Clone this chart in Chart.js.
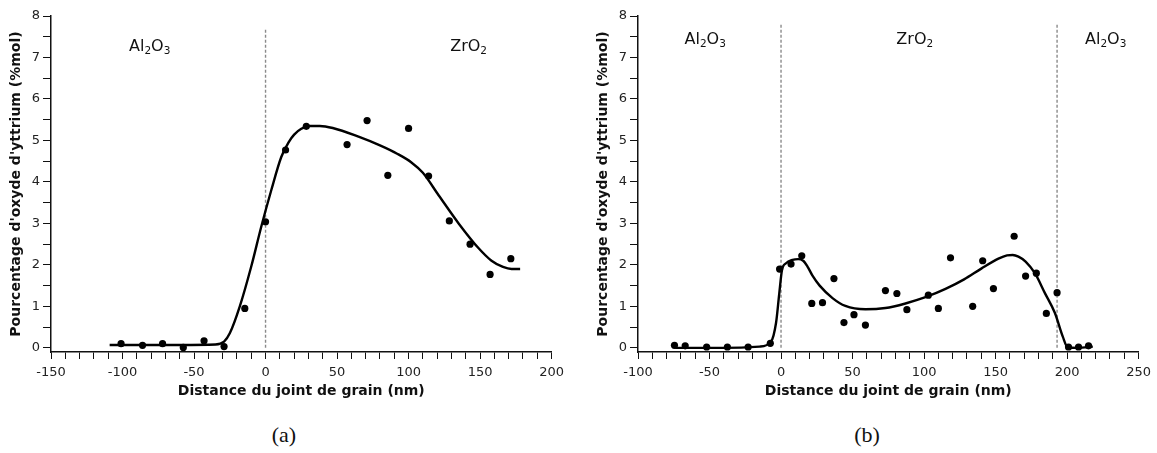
<!DOCTYPE html>
<html lang="fr">
<head>
<meta charset="utf-8">
<title>Pourcentage d'oxyde d'yttrium</title>
<script src="https://cdn.jsdelivr.net/npm/chart.js@4.4.1/dist/chart.umd.min.js"></script>
<style>
  html, body { margin: 0; padding: 0; background: #fff; }
  #page { position: relative; width: 1157px; height: 453px; overflow: hidden; }
  canvas { position: absolute; top: 0; }
  #chartA { left: 0; }
  #chartB { left: 587px; }
  .caption { position: absolute; top: 422px; width: 60px; text-align: center; font: 22px 'Liberation Serif', serif; color: #111; }
</style>
</head>
<body>
<div id="page">
  <canvas id="chartA" width="570" height="400"></canvas>
  <canvas id="chartB" width="570" height="400"></canvas>
  <div class="caption" style="left:254px">(a)</div>
  <div class="caption" style="left:837px">(b)</div>
</div>
<script>
// (a) mesures
const distA = [-101, -86, -72, -57.5, -43, -29, -14.5, 0, 14, 28.5, 57, 71, 85.5, 100, 114, 128.5, 143, 157, 171.5];
const yttriaA = [0.10, 0.06, 0.10, 0.01, 0.17, 0.03, 0.95, 3.04, 4.77, 5.34, 4.90, 5.48, 4.16, 5.29, 4.14, 3.06, 2.50, 1.77, 2.15];
// (a) courbe lissée
const fitDistA = [-109, -60, -35, -29, -25, -18, -10, -3, 4, 11, 16, 20, 25, 31, 38, 47, 65, 80, 92, 102, 110, 121, 135, 149, 158, 166, 172, 178];
const fitYttriaA = [0.07, 0.07, 0.08, 0.15, 0.35, 1.0, 1.96, 2.92, 3.8, 4.6, 4.95, 5.14, 5.28, 5.35, 5.35, 5.30, 5.09, 4.88, 4.68, 4.47, 4.22, 3.68, 3.0, 2.4, 2.1, 1.95, 1.9, 1.9];

// (b) mesures
const distB = [-74.5, -67, -52, -37.5, -23, -7.5, -1, 7, 14.5, 21.5, 29, 37, 44, 51, 59, 73, 81, 88, 103, 110, 118.5, 134, 141, 148.5, 163, 171, 178.5, 185.5, 193, 201, 208, 215];
const yttriaB = [0.06, 0.05, 0.02, 0.02, 0.02, 0.11, 1.90, 2.02, 2.22, 1.07, 1.09, 1.67, 0.61, 0.80, 0.55, 1.38, 1.31, 0.92, 1.27, 0.95, 2.17, 1.00, 2.10, 1.43, 2.69, 1.73, 1.80, 0.83, 1.33, 0.02, 0.02, 0.05];
// (b) courbe lissée
const fitDistB = [-74, -40, -15, -7, -3.5, -1.2, 0.7, 3.5, 8, 12, 15.5, 18.5, 22, 27, 36, 45, 59, 73, 87, 101, 115, 128, 140, 152, 158, 162, 166, 171, 177.5, 184.5, 191.5, 197, 200.5, 207.5, 218];
const fitYttriaB = [0.0, 0.0, 0.03, 0.15, 0.6, 1.32, 1.88, 2.04, 2.12, 2.14, 2.1, 1.96, 1.74, 1.5, 1.2, 1.01, 0.93, 0.96, 1.07, 1.22, 1.42, 1.65, 1.91, 2.15, 2.23, 2.24, 2.2, 2.08, 1.8, 1.32, 0.84, 0.27, 0.01, 0.0, 0.03];

// joints de grain (traits pointillés)
const jointsA = [0];
const jointsB = [0, 193];

// graduations
const xRangeA = [-150, 200];
const xRangeB = [-100, 250];
const yRange = [0, 8];

// phases
const phasesA = [{ text: 'Al2O3', x: -81, y: 7.3 }, { text: 'ZrO2', x: 142, y: 7.3 }];
const phasesB = [{ text: 'Al2O3', x: -53, y: 7.47 }, { text: 'ZrO2', x: 93.5, y: 7.47 }, { text: 'Al2O3', x: 227, y: 7.47 }];

const FONT = '"DejaVu Sans", sans-serif';

function toXY(xs, ys) {
    return xs.map((x, i) => ({ x: x, y: ys[i] }));
}

function range(start, end, step) {
    const out = [];
    const n = Math.round((end - start) / step);
    for (let i = 0; i <= n; i++) out.push(start + i * step);
    return out;
}

// Formule chimique avec indices (Al2O3, ZrO2)
function drawFormula(ctx, text, cx, cy) {
    const big = '16px ' + FONT;
    const small = '10.5px ' + FONT;
    const runs = text.match(/\d+|\D+/g).map(s => ({ s: s, sub: /\d/.test(s) }));
    let total = 0;
    runs.forEach(r => {
        ctx.font = r.sub ? small : big;
        r.w = ctx.measureText(r.s).width;
        total += r.w;
    });
    let px = cx - total / 2;
    ctx.save();
    ctx.fillStyle = '#111';
    ctx.textBaseline = 'alphabetic';
    runs.forEach(r => {
        ctx.font = r.sub ? small : big;
        ctx.fillText(r.s, px, cy + (r.sub ? 9 : 6));
        px += r.w;
    });
    ctx.restore();
}

const phaseLabels = {
    id: 'phaseLabels',
    afterDatasetsDraw(chart, args, opts) {
        const xs = chart.scales.x, ys = chart.scales.y;
        (opts.items || []).forEach(item => {
            drawFormula(chart.ctx, item.text, xs.getPixelForValue(item.x), ys.getPixelForValue(item.y));
        });
    }
};

function renderProfile(canvasId, cfg) {
    const ctx = document.getElementById(canvasId).getContext('2d');
    const datasets = [
        {
            data: toXY(cfg.dist, cfg.yttria),
            showLine: false,
            pointRadius: 3.6,
            pointBackgroundColor: '#000',
            pointBorderWidth: 0,
            order: 1
        },
        {
            data: toXY(cfg.fitDist, cfg.fitYttria),
            showLine: true,
            borderColor: '#000',
            borderWidth: 2.4,
            pointRadius: 0,
            cubicInterpolationMode: 'monotone',
            order: 2
        }
    ];
    cfg.joints.forEach(j => {
        datasets.push({
            data: [{ x: j, y: 0 }, { x: j, y: cfg.jointTop }],
            showLine: true,
            borderColor: '#8a8a8a',
            borderWidth: 1.4,
            borderDash: [3, 2],
            pointRadius: 0,
            order: 3
        });
    });

    return new Chart(ctx, {
        type: 'scatter',
        data: { datasets: datasets },
        plugins: [phaseLabels],
        options: {
            responsive: false,
            animation: false,
            devicePixelRatio: 1,
            layout: { padding: { top: 16, right: cfg.padRight, bottom: 0, left: 0 } },
            plugins: {
                legend: { display: false },
                tooltip: { enabled: false },
                phaseLabels: { items: cfg.phases }
            },
            scales: {
                x: {
                    type: 'linear',
                    min: cfg.xRange[0],
                    max: cfg.xRange[1],
                    afterBuildTicks: s => { s.ticks = range(cfg.xRange[0], cfg.xRange[1], 10).map(v => ({ value: v })); },
                    afterFit: s => { s.height = 48; },
                    ticks: {
                        autoSkip: false,
                        maxRotation: 0,
                        color: '#222',
                        padding: 6,
                        font: { family: FONT, size: 13 },
                        callback: v => (v % 50 === 0 ? v : '')
                    },
                    grid: { drawOnChartArea: false, tickLength: 7, color: '#111', lineWidth: 1 },
                    border: { color: '#111', width: 1.5 },
                    title: {
                        display: true,
                        text: 'Distance du joint de grain (nm)',
                        color: '#111',
                        font: { family: FONT, size: 14, weight: 'bold' },
                        padding: { top: 0, bottom: 0 }
                    }
                },
                y: {
                    type: 'linear',
                    min: -0.1,
                    max: yRange[1],
                    afterBuildTicks: s => { s.ticks = range(yRange[0], yRange[1], 0.5).map(v => ({ value: v })); },
                    afterFit: s => { s.width = 51; },
                    ticks: {
                        color: '#222',
                        padding: 3,
                        font: { family: FONT, size: 13 },
                        callback: v => (Number.isInteger(v) ? v : '')
                    },
                    grid: { drawOnChartArea: false, tickLength: 8, color: '#111', lineWidth: 1 },
                    border: { color: '#111', width: 1.5 },
                    title: {
                        display: true,
                        text: "Pourcentage d'oxyde d'yttrium (%mol)",
                        color: '#111',
                        font: { family: FONT, size: 14, weight: 'bold' },
                        padding: { top: 8, bottom: 0 }
                    }
                }
            }
        }
    });
}

renderProfile('chartA', {
    dist: distA, yttria: yttriaA, fitDist: fitDistA, fitYttria: fitYttriaA,
    joints: jointsA, jointTop: 7.7, xRange: xRangeA, phases: phasesA, padRight: 17
});
renderProfile('chartB', {
    dist: distB, yttria: yttriaB, fitDist: fitDistB, fitYttria: fitYttriaB,
    joints: jointsB, jointTop: 7.8, xRange: xRangeB, phases: phasesB, padRight: 16
});
</script>
</body>
</html>
